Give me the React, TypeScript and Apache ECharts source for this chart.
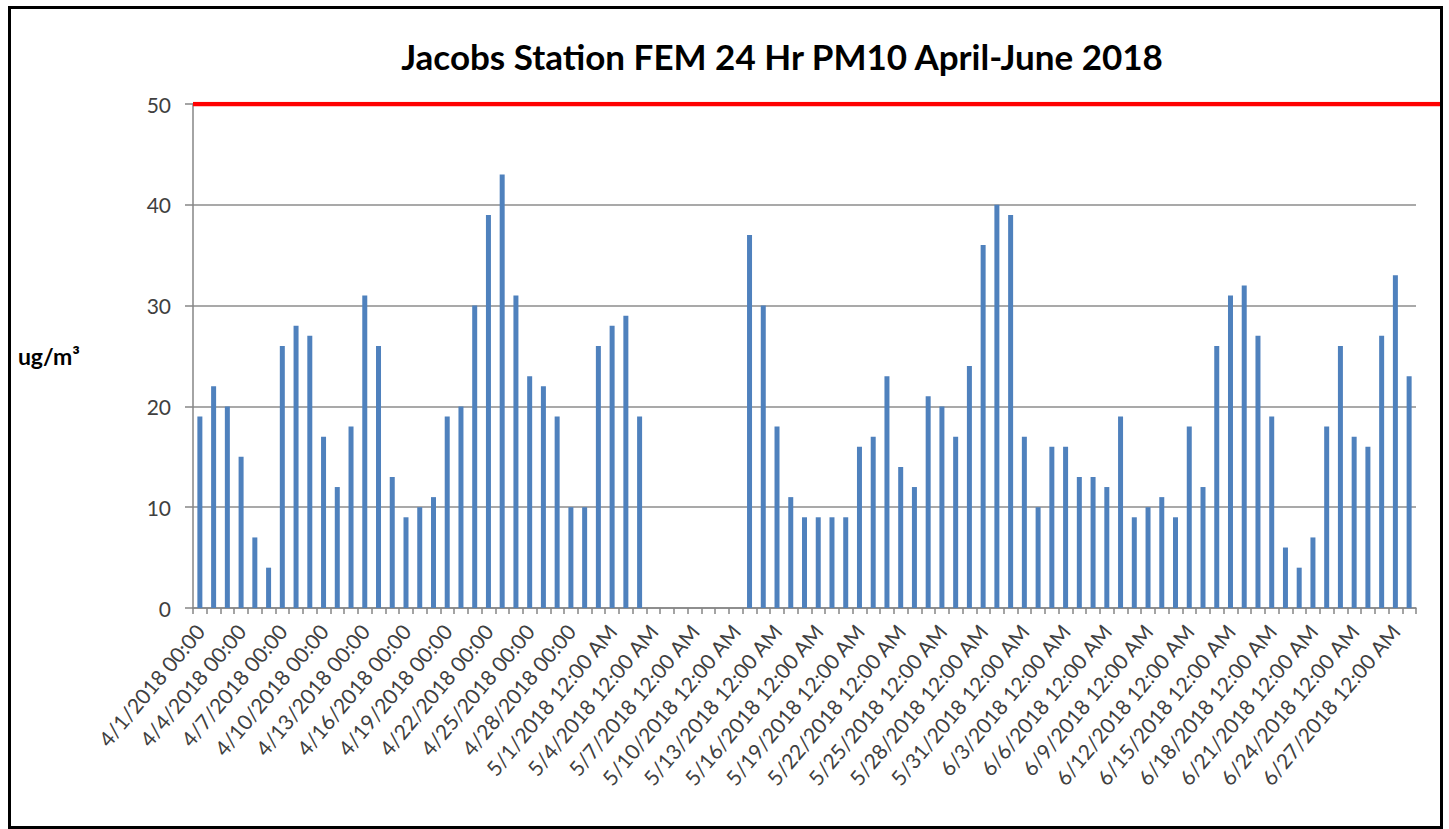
import React, { useEffect, useRef } from "react";
import * as echarts from "echarts";

// Category labels: 4/1/2018 .. 6/28/2018 (daily)
const monthDays: [number, number][] = [
  [4, 30],
  [5, 31],
  [6, 28],
];
const categories: string[] = [];
monthDays.forEach(([m, n]) => {
  for (let d = 1; d <= n; d++) {
    categories.push(m === 4 ? `${m}/${d}/2018 00:00` : `${m}/${d}/2018 12:00 AM`);
  }
});

// 24-hr PM10 (ug/m3); null = no data
const aprilValues = [
  19, 22, 20, 15, 7, 4, 26, 28, 27, 17, 12, 18, 31, 26, 13, 9, 10, 11, 19, 20,
  30, 39, 43, 31, 23, 22, 19, 10, 10, 26,
];
const mayValues = [
  28, 29, 19, null, null, null, null, null, null, null, 37, 30, 18, 11, 9, 9, 9,
  9, 16, 17, 23, 14, 12, 21, 20, 17, 24, 36, 40, 39, 17,
];
const juneValues = [
  10, 16, 16, 13, 13, 12, 19, 9, 10, 11, 9, 18, 12, 26, 31, 32, 27, 19, 6, 4, 7,
  18, 26, 17, 16, 27, 33, 23,
];
const pm10Values = [...aprilValues, ...mayValues, ...juneValues];

const standardValue = 50;
const yTicks = { min: 0, max: 50, interval: 10 };

const titleText = "Jacobs Station FEM 24 Hr PM10 April-June 2018";
const yAxisName = "ug/m³";

export default function App() {
  const ref = useRef<HTMLDivElement>(null);
  useEffect(() => {
    document.body.style.margin = "0";
    if (!ref.current) return;
    const chart = echarts.init(ref.current, null, { renderer: "svg" });
    const font = "Lato, 'Open Sans', sans-serif";
    const gridTop = 104;
    const gridBottom = 221;
    chart.setOption({
      animation: false,
      backgroundColor: "#fff",
      textStyle: { fontFamily: font },
      title: {
        text: titleText,
        left: 777,
        textAlign: "center",
        top: 33,
        textStyle: { fontFamily: font, fontWeight: "bold", fontSize: 35, color: "#000" },
      },
      graphic: [
        {
          type: "rect",
          shape: { x: 9.5, y: 7.5, width: 1432, height: 820 },
          style: { fill: "none", stroke: "#000", lineWidth: 3 },
          silent: true,
          z: 100,
        },
      ],
      grid: [
        { left: 193, right: 33, top: gridTop, bottom: gridBottom },
        { left: 193, right: 7, top: gridTop, bottom: gridBottom },
      ],
      xAxis: [
        {
          type: "category",
          gridIndex: 0,
          data: categories,
          boundaryGap: true,
          axisLine: { show: true, lineStyle: { color: "#868686", width: 1.5 } },
          axisTick: { show: true, interval: 0, length: 6, lineStyle: { color: "#868686", width: 1.5 } },
          axisLabel: {
            interval: 2,
            rotate: 50,
            fontSize: 21,
            color: "#404040",
            margin: 19,
            fontFamily: font,
          },
        },
        { type: "value", gridIndex: 1, min: 0, max: 1, show: false },
      ],
      yAxis: [
        {
          type: "value",
          gridIndex: 0,
          min: yTicks.min,
          max: yTicks.max,
          interval: yTicks.interval,
          name: yAxisName,
          nameLocation: "middle",
          nameRotate: 0,
          nameGap: 113,
          nameTextStyle: { fontFamily: font, fontWeight: "bold", fontSize: 23, color: "#000" },
          axisLine: { show: true, lineStyle: { color: "#868686", width: 1.5 } },
          axisTick: { show: true, length: 8, lineStyle: { color: "#868686", width: 1.5 } },
          axisLabel: { fontSize: 21, color: "#404040", margin: 22, fontFamily: font },
          splitLine: { show: true, lineStyle: { color: "#8c8c8c", width: 1.5 } },
        },
        { type: "value", gridIndex: 1, min: yTicks.min, max: yTicks.max, show: false },
      ],
      series: [
        {
          type: "bar",
          xAxisIndex: 0,
          yAxisIndex: 0,
          data: pm10Values,
          barWidth: 5,
          itemStyle: { color: "#4F81BD" },
        },
        {
          type: "line",
          xAxisIndex: 1,
          yAxisIndex: 1,
          data: [
            [0, standardValue],
            [1, standardValue],
          ],
          symbol: "none",
          lineStyle: { color: "#ff0000", width: 4.5 },
          z: 10,
        },
      ],
    });
    return () => chart.dispose();
  }, []);
  return <div ref={ref} style={{ width: 1449, height: 829 }} />;
}
